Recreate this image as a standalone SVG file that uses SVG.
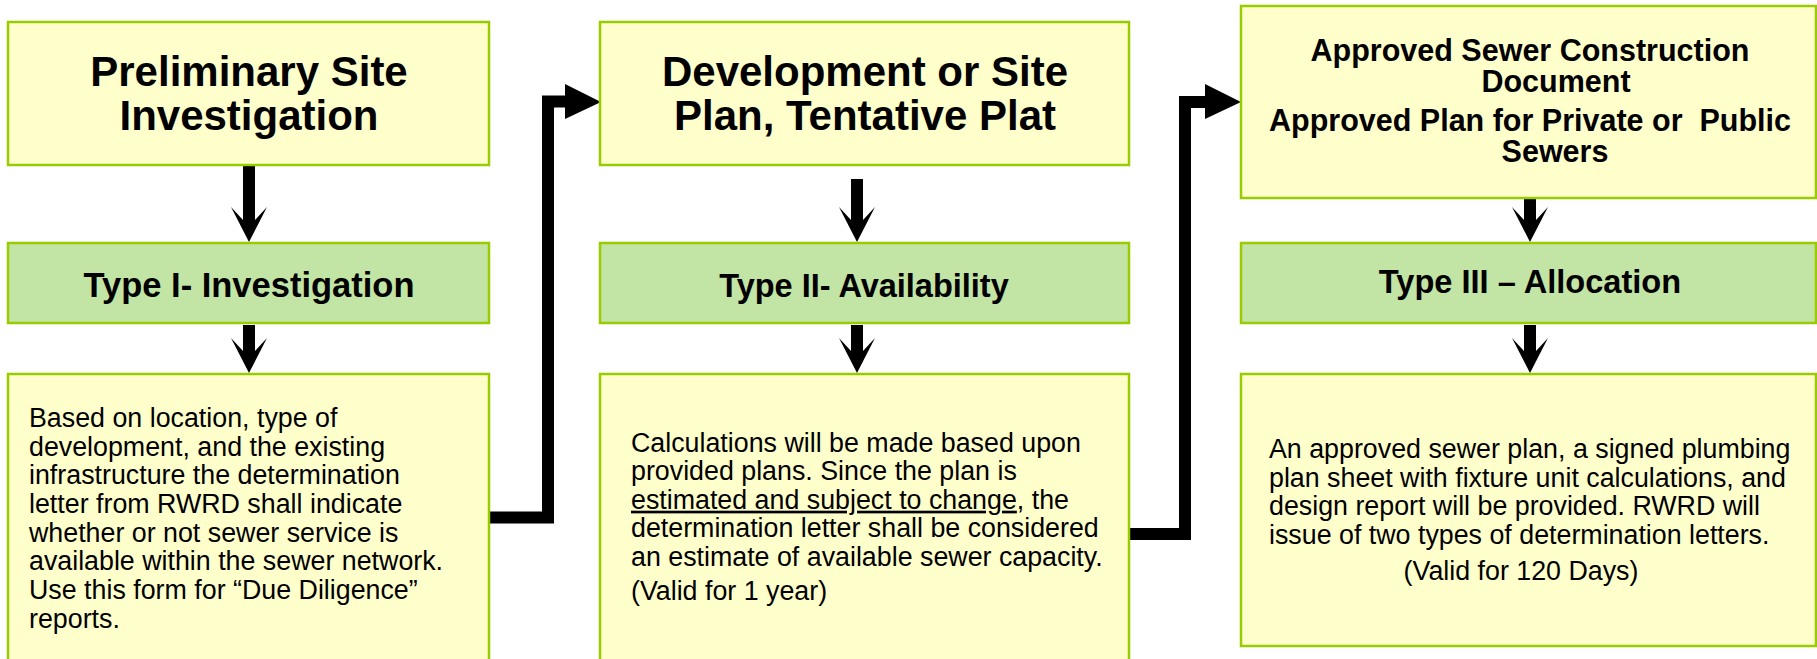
<svg xmlns="http://www.w3.org/2000/svg" xmlns:xlink="http://www.w3.org/1999/xlink" width="1817" height="659" viewBox="0 0 1817 659">
<style>
.box{fill:#ffffcc;stroke:#99cc00;stroke-width:2.5}
.type{fill:#c2e4a5;stroke:#99cc00;stroke-width:2.5}
.hd{font-family:"Liberation Sans",Arial,sans-serif;font-weight:bold;fill:#000;text-anchor:middle}
.bd{font-family:"Liberation Sans",Arial,sans-serif;fill:#000;font-size:26.8px}
.wire{fill:none;stroke:#000;stroke-width:12;stroke-linejoin:miter}
.shaft{stroke:#000;stroke-width:12}
</style>
<defs>
<path id="ahead" d="M0,0 L-18,-35 L-6,-22 L6,-22 L18,-35 Z" fill="#000"/>
</defs>
<rect width="1817" height="659" fill="#fff"/>

<g id="connectors">
<line class="shaft" x1="249" y1="165" x2="249" y2="221"/>
<use xlink:href="#ahead" x="249" y="242"/>
<line class="shaft" x1="249" y1="325" x2="249" y2="352"/>
<use xlink:href="#ahead" x="249" y="373"/>
<line class="shaft" x1="857" y1="179" x2="857" y2="221"/>
<use xlink:href="#ahead" x="857" y="242"/>
<line class="shaft" x1="857" y1="325" x2="857" y2="352"/>
<use xlink:href="#ahead" x="857" y="373"/>
<line class="shaft" x1="1530" y1="198" x2="1530" y2="221"/>
<use xlink:href="#ahead" x="1530" y="242"/>
<line class="shaft" x1="1530" y1="325" x2="1530" y2="352"/>
<use xlink:href="#ahead" x="1530" y="373"/>
<path class="wire" d="M489,517.5 H548 V101.5 H567"/>
<polygon points="565,84 601,102 565,119" fill="#000"/>
<path class="wire" d="M1129,534 H1185 V102 H1207"/>
<polygon points="1205,84 1241,102 1205,119" fill="#000"/>
</g>

<g id="n-prelim">
<rect class="box" x="8" y="22" width="481" height="143"/>
<text class="hd" font-size="42" x="249" y="86">Preliminary Site</text>
<text class="hd" font-size="42" x="249" y="130">Investigation</text>
</g>
<g id="n-type1">
<rect class="type" x="8" y="243" width="481" height="80"/>
<text class="hd" font-size="34.5" x="249" y="297">Type I- Investigation</text>
</g>
<g id="n-body1">
<rect class="box" x="8" y="374" width="481" height="300"/>
<text class="bd" x="29" y="427">Based on location, type of</text>
<text class="bd" x="29" y="455.7">development, and the existing</text>
<text class="bd" x="29" y="484.4">infrastructure the determination</text>
<text class="bd" x="29" y="513">letter from RWRD shall indicate</text>
<text class="bd" x="29" y="541.7">whether or not sewer service is</text>
<text class="bd" x="29" y="570.4">available within the sewer network.</text>
<text class="bd" x="29" y="599">Use this form for “Due Diligence”</text>
<text class="bd" x="29" y="627.7">reports.</text>
</g>

<g id="n-devplan">
<rect class="box" x="600" y="22" width="529" height="143"/>
<text class="hd" font-size="42" x="865" y="86">Development or Site</text>
<text class="hd" font-size="42" x="865" y="130">Plan, Tentative Plat</text>
</g>
<g id="n-type2">
<rect class="type" x="600" y="243" width="529" height="80"/>
<text class="hd" font-size="32.5" x="864" y="297">Type II- Availability</text>
</g>
<g id="n-body2">
<rect class="box" x="600" y="374" width="529" height="300"/>
<text class="bd" x="631" y="451.7">Calculations will be made based upon</text>
<text class="bd" x="631" y="480.2">provided plans. Since the plan is</text>
<text class="bd" x="631" y="508.7"><tspan text-decoration="underline">estimated and subject to change</tspan>, the</text>
<text class="bd" x="631" y="537.2">determination letter shall be considered</text>
<text class="bd" x="631" y="565.7">an estimate of available sewer capacity.</text>
<text class="bd" x="631" y="600">(Valid for 1 year)</text>
</g>

<g id="n-approved">
<rect class="box" x="1241" y="6" width="575" height="192"/>
<text class="hd" font-size="30.5" x="1530" y="61">Approved Sewer Construction</text>
<text class="hd" font-size="30.5" x="1556" y="92">Document</text>
<text class="hd" font-size="30.5" x="1530" y="131" xml:space="preserve">Approved Plan for Private or  Public</text>
<text class="hd" font-size="30.5" x="1555" y="162">Sewers</text>
</g>
<g id="n-type3">
<rect class="type" x="1241" y="243" width="575" height="80"/>
<text class="hd" font-size="32.6" x="1530" y="293">Type III – Allocation</text>
</g>
<g id="n-body3">
<rect class="box" x="1241" y="374" width="575" height="272"/>
<text class="bd" x="1269" y="458">An approved sewer plan, a signed plumbing</text>
<text class="bd" x="1269" y="486.7">plan sheet with fixture unit calculations, and</text>
<text class="bd" x="1269" y="515.3">design report will be provided. RWRD will</text>
<text class="bd" x="1269" y="544">issue of two types of determination letters.</text>
<text class="bd" x="1521" y="580" text-anchor="middle">(Valid for 120 Days)</text>
</g>
</svg>
